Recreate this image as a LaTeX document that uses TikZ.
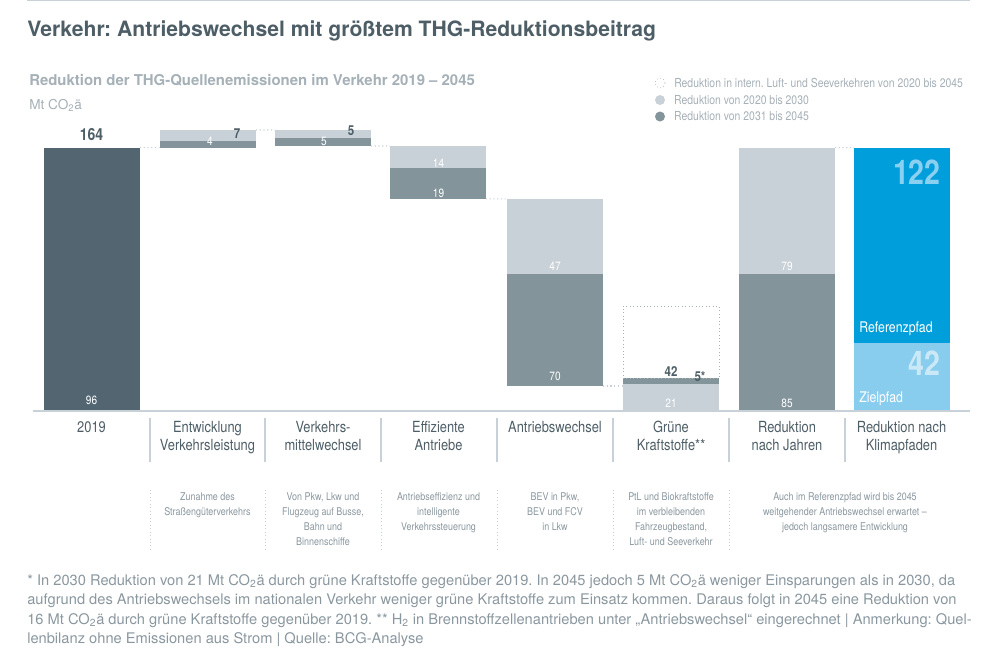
\documentclass[tikz,border=0pt]{standalone}
\usepackage{fontspec}
\setmainfont{TeX Gyre Heros}
\newfontfamily\condfont{TeX Gyre Heros}[FakeStretch=0.84]
\usetikzlibrary{positioning}
\frenchspacing

\definecolor{slate}{HTML}{526570}
\definecolor{barmid}{HTML}{84949B}
\definecolor{barlight}{HTML}{C9D1D8}
\definecolor{refblue}{HTML}{009EDB}
\definecolor{zielblue}{HTML}{88CDEE}
\definecolor{refnum}{HTML}{8AD0F0}
\definecolor{zielnum}{HTML}{CBE8F7}
\definecolor{headgray}{HTML}{4E5E66}
\definecolor{subgray}{HTML}{A5B0B7}
\definecolor{notegray}{HTML}{8A979F}

\newcommand\cotwo{CO\textsubscript{2}ä}

\tikzset{
  bar/.style={anchor=south west, inner sep=0pt, outer sep=0pt, minimum width=72pt},
  barh/.style={minimum height=#1*1.2pt},
  value/.style={inner sep=0pt, text=white, font=\condfont\fontsize{9}{10}\selectfont},
  darkvalue/.style={inner sep=0pt, text=headgray, font=\condfont\bfseries\fontsize{10.3}{11}\selectfont},
  total/.style={inner sep=0pt, text=headgray, font=\condfont\bfseries\fontsize{12.5}{14}\selectfont},
  bignum/.style={anchor=east, inner sep=0pt, font=\condfont\bfseries\fontsize{25.5}{26}\selectfont},
  pathlabel/.style={anchor=west, inner sep=0pt, text=white, font=\condfont\fontsize{11}{12}\selectfont},
  catlabel/.style={anchor=north, align=center, inner sep=0pt, text=headgray, font=\condfont\fontsize{11.5}{13.5}\selectfont},
  desc/.style={anchor=north, align=center, inner sep=0pt, text=notegray, font=\condfont\fontsize{8}{11.25}\selectfont},
  legend/.style={anchor=west, inner sep=0pt, text=subgray, font=\condfont\fontsize{9.3}{10}\selectfont},
  legdot/.style={circle, inner sep=0pt, minimum size=7.5pt},
  connector/.style={barlight, dotted, line width=0.8pt},
}

\begin{document}
\begin{tikzpicture}[x=0.75pt, y=-0.75pt]
    \useasboundingbox (0,0) rectangle (992,668);
    \draw [barlight, line width=1.2pt] (27,0.6) -- (970,0.6);

    % heading
    \node (title) [anchor=base west, inner sep=0pt, text=headgray, font=\bfseries\fontsize{15.85}{17}\selectfont] at (27,36) {Verkehr: Antriebswechsel mit größtem THG-Reduktionsbeitrag};
    \node (subtitle) [anchor=base west, inner sep=0pt, text=subgray, font=\bfseries\fontsize{11.2}{12}\selectfont] at (29,85.5) {Reduktion der THG-Quellenemissionen im Verkehr 2019 – 2045};
    \node (unit) [anchor=base west, inner sep=0pt, text=subgray, font=\fontsize{10.2}{12}\selectfont] at (29,109) {Mt \cotwo};

    % legend
    \node (lg1) [legdot, draw=subgray, dotted, line width=0.5pt] at (660,83) {};
    \node (lg2) [legdot, fill=barlight] at (660,100) {};
    \node (lg3) [legdot, fill=barmid] at (660,116.5) {};
    \node (lt1) [legend, right=6.5pt of lg1] {Reduktion in intern. Luft- und Seeverkehren von 2020 bis 2045};
    \node (lt2) [legend, right=6.5pt of lg2] {Reduktion von 2020 bis 2030};
    \node (lt3) [legend, right=6.5pt of lg3] {Reduktion von 2031 bis 2045};

    % bars
    \node (b19) [bar, barh=164, fill=slate] at (44,410) {};
    \node (ent4) [bar, barh=4, fill=barmid] at (160,147.6) {};
    \node (ent7) [bar, barh=7, fill=barlight, above=0pt of ent4] {};
    \node (vmw5b) [bar, barh=5, fill=barmid] at (275,146) {};
    \node (vmw5a) [bar, barh=5, fill=barlight, above=0pt of vmw5b] {};
    \node (eff19) [bar, barh=19, fill=barmid] at (390,198.8) {};
    \node (eff14) [bar, barh=14, fill=barlight, above=0pt of eff19] {};
    \node (aw70) [bar, barh=70, fill=barmid] at (507,386) {};
    \node (aw47) [bar, barh=47, fill=barlight, above=0pt of aw70] {};
    \node (gk21) [bar, barh=16, fill=barlight] at (623,410) {};
    \node (gk5) [bar, barh=4, fill=barmid, above=0pt of gk21] {};
    \node (gk42) [bar, barh=45, draw=subgray, dotted, line width=0.6pt, above=0pt of gk5] {};
    \node (nj85) [bar, barh=85, fill=barmid] at (739,410) {};
    \node (nj79) [bar, barh=79, fill=barlight, above=0pt of nj85] {};
    \node (ziel) [bar, barh=42, fill=zielblue] at (854,410) {};
    \node (ref) [bar, barh=122, fill=refblue, above=0pt of ziel] {};

    \draw [connector] (b19.north east) -- (ent4.south west);
    \draw [connector] (ent7.north east) -- (vmw5a.north west);
    \draw [connector] (vmw5b.south east) -- (eff14.north west);
    \draw [connector] (eff19.south east) -- (aw47.north west);
    \draw [connector] (aw70.south east) -- (aw70.south east -| gk5.west);
    \draw [connector] (nj79.north east) -- (ref.north west);

    \draw [barlight, line width=1pt] (33,411) -- (970,411);

    % values
    \node (t164) [total] at (91.5,135) {164};
    \node (t96) [value] at (91.5,400) {96};
    \node (t7) [darkvalue] at (237,134) {7};
    \node (t4) [value] at (210,141.5) {4};
    \node (t5a) [darkvalue] at (351,131) {5};
    \node (t5b) [value] at (324,141.5) {5};
    \node (t14) [value] at (438.5,163) {14};
    \node (t19) [value] at (438.5,193) {19};
    \node (t47) [value] at (555,266) {47};
    \node (t70) [value] at (555,376) {70};
    \node (t42) [darkvalue] at (671,371.5) {42};
    \node (t5s) [darkvalue] at (700,377) {5*};
    \node (t21) [value] at (671,403) {21};
    \node (t79) [value] at (787,266) {79};
    \node (t85) [value] at (787,403) {85};
    \node (n122) [bignum, text=refnum] at (941,172) {122};
    \node (nref) [pathlabel] at (859,329) {Referenzpfad};
    \node (n42) [bignum, text=zielnum] at (941,363) {42};
    \node (nziel) [pathlabel] at (859,399) {Zielpfad};

    % categories
    \foreach \x/\txt [count=\i] in {91.5/2019, 207.5/{Entwicklung\\Verkehrsleistung}, 323/{Verkehrs-\\mittelwechsel}, 438.5/{Effiziente\\Antriebe}, 555/Antriebswechsel, 671/{Grüne\\Kraftstoffe**}, 787/{Reduktion\\nach Jahren}, 901.5/{Reduktion nach\\Klimapfaden}}
        \node (cat\i) [catlabel] at (\x,421) {\txt};
    \foreach \x in {150,265,381,497,613,729,845}
        \draw [barlight, line width=0.8pt] (\x,418) -- (\x,462);
    \foreach \x in {150,265,381,497,613,729}
        \draw [barlight, dotted, line width=0.6pt] (\x,490) -- (\x,550);

    \node (d2) [desc] at (207.5,492) {Zunahme des\\Straßengüterverkehrs};
    \node (d3) [desc] at (323,492) {Von Pkw, Lkw und\\Flugzeug auf Busse,\\Bahn und\\Binnenschiffe};
    \node (d4) [desc] at (438.5,492) {Antriebseffizienz und\\intelligente\\Verkehrssteuerung};
    \node (d5) [desc] at (555,492) {BEV in Pkw,\\BEV und FCV\\in Lkw};
    \node (d6) [desc] at (671,492) {PtL und Biokraftstoffe\\im verbleibenden\\Fahrzeugbestand,\\Luft- und Seeverkehr};
    \node (d7) [desc] at (845,492) {Auch im Referenzpfad wird bis 2045\\weitgehender Antriebswechsel erwartet –\\jedoch langsamere Entwicklung};

    % footnote
    \node (note) [anchor=north west, align=left, inner sep=0pt, text=notegray, font=\fontsize{11}{14.6}\selectfont] at (27,574) {* In 2030 Reduktion von 21 Mt \cotwo{} durch grüne Kraftstoffe gegenüber 2019. In 2045 jedoch 5 Mt \cotwo{} weniger Einsparungen als in 2030, da\\aufgrund des Antriebswechsels im nationalen Verkehr weniger grüne Kraftstoffe zum Einsatz kommen. Daraus folgt in 2045 eine Reduktion von\\16 Mt \cotwo{} durch grüne Kraftstoffe gegenüber 2019. ** H\textsubscript{2} in Brennstoffzellenantrieben unter „Antriebswechsel“ eingerechnet | Anmerkung: Quel-\\lenbilanz ohne Emissionen aus Strom | Quelle: BCG-Analyse};
\end{tikzpicture}
\end{document}
